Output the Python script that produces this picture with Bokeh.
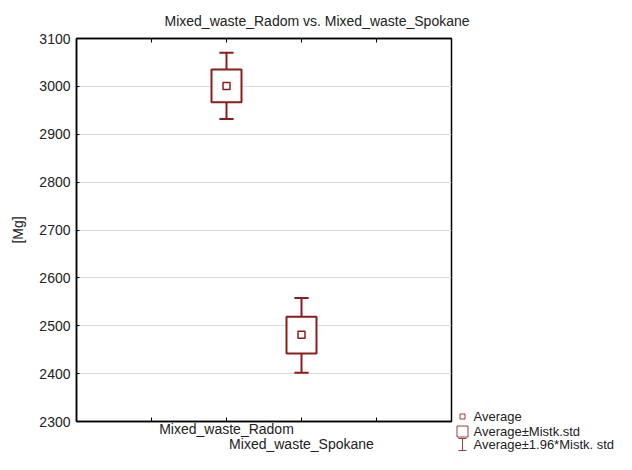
import numpy as np
from bokeh.plotting import figure
from bokeh.layouts import column, row
from bokeh.models import Range1d, LinearAxis, FixedTicker
from bokeh.embed import file_html
from bokeh.resources import INLINE

# ---------------- data ----------------
categories = ["Mixed_waste_Radom", "Mixed_waste_Spokane"]
cat_pos = [2, 3]                      # positions of the categories on the 0..5 axis
means = [3001, 2481]                  # Average
box_low = [2967, 2442]                # Average - std. error
box_high = [3035, 2519]               # Average + std. error
whisk_low = [2932, 2402]              # Average - 1.96*std. error
whisk_high = [3070, 2558]             # Average + 1.96*std. error
y_ticks = [2300, 2400, 2500, 2600, 2700, 2800, 2900, 3000, 3100]
x_ticks = [1, 2, 3, 4]
legend_labels = ["Average", "Average±Mistk.std", "Average±1.96*Mistk. std"]
title_text = "Mixed_waste_Radom vs. Mixed_waste_Spokane"
y_label = "[Mg]"

# ---------------- style ----------------
RED = "#8b1c1c"
FONT = "Liberation Sans"
FS = "14px"
TXT = "#222222"
W, H = 616, 454
TITLE_H = 30
MAIN_W = 455
LEG_W = W - MAIN_W
BODY_H = H - TITLE_H

# ---------------- title strip ----------------
tf = figure(width=W, height=TITLE_H, x_axis_type=None, y_axis_type=None,
            output_backend="svg", toolbar_location=None,
            min_border_left=0, min_border_right=0, min_border_bottom=0, min_border_top=28)
tf.frame_align = False
tf.outline_line_color = None
tf.grid.visible = False
tf.title.text = title_text
tf.title.align = "left"
tf.title.offset = 164
tf.title.standoff = 0
tf.title.text_font = FONT
tf.title.text_font_size = FS
tf.title.text_font_style = "normal"
tf.title.text_color = TXT

# ---------------- main plot ----------------
p = figure(width=MAIN_W, height=BODY_H, x_range=Range1d(0, 5), y_range=Range1d(2300, 3100),
           output_backend="svg", toolbar_location=None,
           min_border_left=76, min_border_right=4, min_border_top=8, min_border_bottom=31)
p.frame_align = False
p.outline_line_color = "black"
p.outline_line_width = 1.5

ya = p.yaxis[0]
ya.ticker = FixedTicker(ticks=y_ticks)
ya.major_tick_in = 3
ya.major_tick_out = 0
ya.minor_tick_line_color = None
ya.major_label_standoff = 6
ya.major_label_text_font = FONT
ya.major_label_text_font_size = FS
ya.major_label_text_color = TXT
ya.axis_line_color = "black"
ya.axis_line_width = 1.5
ya.axis_label = y_label
ya.axis_label_text_font = FONT
ya.axis_label_text_font_size = FS
ya.axis_label_text_font_style = "normal"
ya.axis_label_text_color = TXT
ya.axis_label_standoff = 10

xa = p.xaxis[0]
xa.ticker = FixedTicker(ticks=x_ticks)
overrides = {t: "" for t in x_ticks}
overrides[cat_pos[0]] = categories[0]
xa.major_label_overrides = overrides
xa.major_tick_in = 4
xa.major_tick_out = 0
xa.minor_tick_line_color = None
xa.major_label_standoff = -1
xa.major_label_text_font = FONT
xa.major_label_text_font_size = FS
xa.major_label_text_color = TXT
xa.axis_line_color = "black"
xa.axis_line_width = 1.5

xb = LinearAxis(ticker=FixedTicker(ticks=[cat_pos[1]]),
                major_label_overrides={cat_pos[1]: categories[1]})
xb.axis_line_color = None
xb.major_tick_line_color = None
xb.minor_tick_line_color = None
xb.major_label_standoff = -10
xb.major_label_text_font = FONT
xb.major_label_text_font_size = FS
xb.major_label_text_color = TXT
p.add_layout(xb, "below")

xt = LinearAxis(ticker=FixedTicker(ticks=x_ticks),
                major_label_overrides={t: "" for t in x_ticks})
xt.major_tick_in = 4
xt.major_tick_out = 0
xt.minor_tick_line_color = None
xt.major_label_standoff = 0
xt.major_label_text_font_size = "1px"
xt.axis_line_color = "black"
xt.axis_line_width = 1.5
p.add_layout(xt, "above")

p.xgrid.visible = False
p.ygrid.ticker = FixedTicker(ticks=y_ticks)
p.ygrid.grid_line_color = "#dcdcdc"
p.ygrid.grid_line_width = 1

xs = np.array(cat_pos, dtype=float)
cap = 0.095
p.segment(x0=xs, y0=box_high, x1=xs, y1=whisk_high, line_color=RED, line_width=2)
p.segment(x0=xs, y0=box_low, x1=xs, y1=whisk_low, line_color=RED, line_width=2)
p.segment(x0=xs - cap, y0=whisk_high, x1=xs + cap, y1=whisk_high, line_color=RED, line_width=2)
p.segment(x0=xs - cap, y0=whisk_low, x1=xs + cap, y1=whisk_low, line_color=RED, line_width=2)
p.vbar(x=xs, width=0.4, bottom=box_low, top=box_high, fill_color="white",
       line_color=RED, line_width=2)
p.scatter(x=xs, y=means, marker="square", size=7, fill_color="white",
          line_color=RED, line_width=1.5)

# ---------------- legend panel (pixel-like coordinates, y downwards) ----------------
lg = figure(width=LEG_W, height=BODY_H, x_range=Range1d(0, LEG_W), y_range=Range1d(BODY_H, 0),
            x_axis_type=None, y_axis_type=None, output_backend="svg", toolbar_location=None,
            min_border_left=0, min_border_right=0, min_border_top=0, min_border_bottom=0)
lg.frame_align = False
lg.outline_line_color = None
lg.grid.visible = False
mark_x = 7
text_x = 18
rows_y = [386, 401, 414]
lg.scatter(x=[mark_x], y=[rows_y[0]], marker="square", size=5, fill_color="white",
           line_color=RED, line_width=1, line_alpha=0.85)
lg.scatter(x=[mark_x], y=[rows_y[1]], marker="square", size=11, fill_color="white",
           line_color=RED, line_width=1, line_alpha=0.85)
lg.segment(x0=[mark_x], y0=[rows_y[2] - 6], x1=[mark_x], y1=[rows_y[2] + 6],
           line_color=RED, line_width=1, line_alpha=0.85)
lg.segment(x0=[mark_x - 4, mark_x - 4], y0=[rows_y[2] - 6, rows_y[2] + 6],
           x1=[mark_x + 4, mark_x + 4], y1=[rows_y[2] - 6, rows_y[2] + 6],
           line_color=RED, line_width=1, line_alpha=0.85)
lg.text(x=[text_x] * 3, y=rows_y, text=legend_labels, text_font={"value": FONT},
        text_font_size={"value": "13px"}, text_color=TXT,
        text_baseline="middle", text_align="left")

layout = column(tf, row(p, lg, spacing=0), spacing=0)
open("out.html", "w").write(file_html(layout, INLINE))
